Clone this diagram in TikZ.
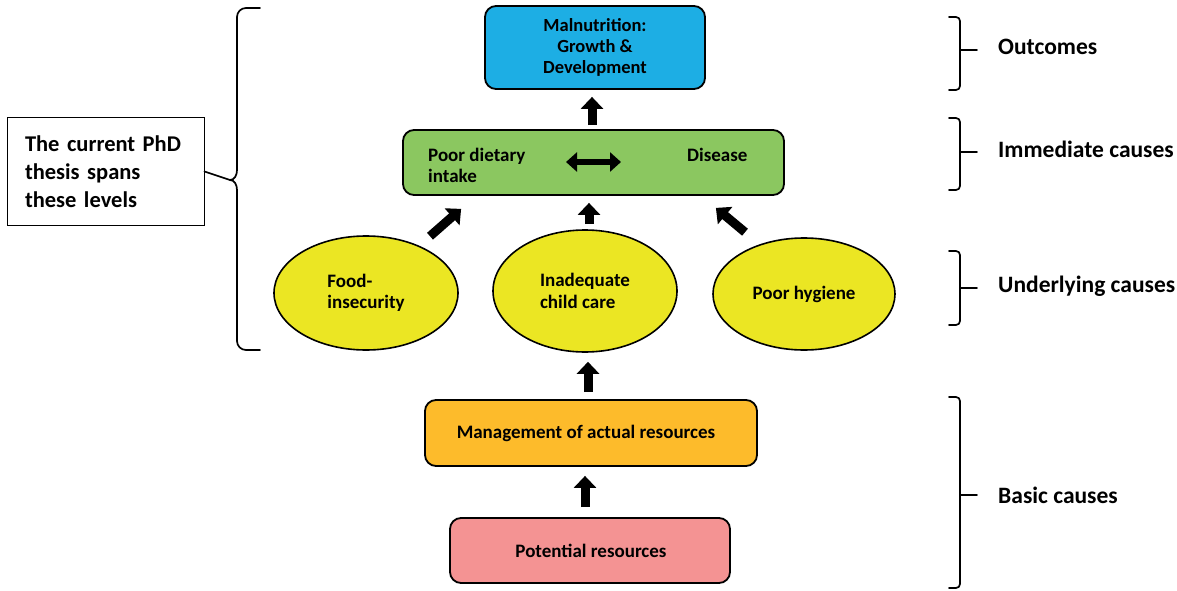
\documentclass[tikz,border=0pt]{standalone}
\usepackage{fontspec}
\setmainfont{Carlito}
\usetikzlibrary{arrows.meta,shapes.geometric,calc}
\definecolor{cblue}{RGB}{29,174,228}
\definecolor{cgreen}{RGB}{139,199,96}
\definecolor{cyellow}{RGB}{235,230,35}
\definecolor{corange}{RGB}{253,187,43}
\definecolor{cpink}{RGB}{244,147,147}
\begin{document}
\begin{tikzpicture}[x=1pt,y=-1pt,font=\bfseries,
  box/.style={draw=black,line width=1.8pt,rounded corners=11pt,inner sep=0pt},
  ell/.style={ellipse,draw=black,line width=1.6pt,fill=cyellow,inner sep=0pt,align=left,font=\bfseries\fontsize{19}{21.5}\selectfont},
  intext/.style={font=\bfseries\fontsize{19}{21}\selectfont,inner sep=0pt},
  lbl/.style={font=\bfseries\fontsize{23.5}{26}\selectfont,anchor=west,inner sep=0pt},
  barrow/.style={line width=9pt,-{Triangle[width=22pt,length=12pt]}},
  darrow/.style={line width=6pt,{Triangle[width=19pt,length=11pt]}-{Triangle[width=19pt,length=11pt]}},
  brk/.style={line width=1.7pt,line cap=round,line join=round}]
\useasboundingbox (0,0) rectangle (1177,591);

% main boxes
\node[box,fill=cblue,minimum width=220pt,minimum height=83pt,align=center,font=\bfseries\fontsize{18.5}{21}\selectfont] (blue) at (595,47.5) {Malnutrition:\\Growth \&\\Development};
\node[box,fill=cgreen,minimum width=381pt,minimum height=65pt] (green) at (593.5,162.5) {};
\node[intext,anchor=north west,align=left] (diet) at (428,148) {Poor dietary\\intake};
\node[intext,anchor=north west] (dis) at (687,148) {Disease};
\coordinate (dl) at (566,162);
\coordinate (dr) at (621,162);
\draw[darrow] (dl) -- (dr);

\node[ell,minimum width=184pt,minimum height=114pt] (food) at (366,293) {Food-\\insecurity};
\node[ell,minimum width=184pt,minimum height=122pt] (inad) at (585,291) {Inadequate\\child care};
\node[ell,minimum width=182pt,minimum height=112pt] (hyg) at (804,294) {Poor hygiene};

\node[box,fill=corange,minimum width=332pt,minimum height=66pt,intext] (mgmt) at (591,433) {Management of actual resources\hspace*{10pt}};
\node[box,fill=cpink,minimum width=280pt,minimum height=65pt,intext] (pot) at (590,550.5) {\hspace*{2pt}Potential resources};

% block arrows
\draw[barrow,shorten <=4pt,shorten >=7pt] ([xshift=-1.5pt]green.north) -- ([xshift=-3pt]blue.south);
\draw[barrow] ([shift={(64,1)}]food.north) -- ([shift={(59,13)}]green.south west);
\draw[barrow,shorten <=5pt,shorten >=7pt] ([xshift=4pt]inad.north) -- ([xshift=-4.5pt]green.south);
\draw[barrow] ([shift={(-59,-5)}]hyg.north) -- ([shift={(-69,12)}]green.south east);
\draw[barrow,shorten <=7pt,shorten >=9pt] ([xshift=-3pt]mgmt.north) -- ([xshift=3pt]inad.south);
\draw[barrow,shorten <=10pt,shorten >=9pt] ([xshift=-5pt]pot.north) -- ([xshift=-6pt]mgmt.south);

% left box and brace
\node[draw=black,line width=1pt,minimum width=197pt,minimum height=107pt,text width=161pt,align=left,inner sep=0pt,font=\bfseries\fontsize{22.5}{28}\selectfont] (phd) at (105.5,171.5) {The current PhD\\thesis spans\\these levels};
\coordinate (btip) at (230,180);
\draw[brk] (phd.east) -- (btip);
\draw[brk] (260,8) -- (246,8) to[out=180,in=90] (237,17) -- (237,170) to[out=-90,in=0] (btip) to[out=0,in=90] (237,190) -- (237,341) to[out=-90,in=180] (246,350) -- (260,350);

% right labels and brackets
\node[lbl] (l1) at (998,47) {Outcomes};
\node[lbl] (l2) at (998,149) {Immediate causes};
\node[lbl] (l3) at (998,286) {Underlying causes};
\node[lbl] (l4) at (998,495) {Basic causes};
\foreach \n/\t/\b/\m in {l1/17/90/50, l2/118/190/152, l3/251/325/288, l4/397/588/495}{
  \draw[brk] (949,\t) -- (956,\t) to[out=0,in=90] (960,\t+4) -- (960,\b-4) to[out=-90,in=0] (956,\b) -- (949,\b);
  \draw[brk] (960,\m) -- ([xshift=-21pt]\n.west |- 0,\m);
}
\end{tikzpicture}
\end{document}
